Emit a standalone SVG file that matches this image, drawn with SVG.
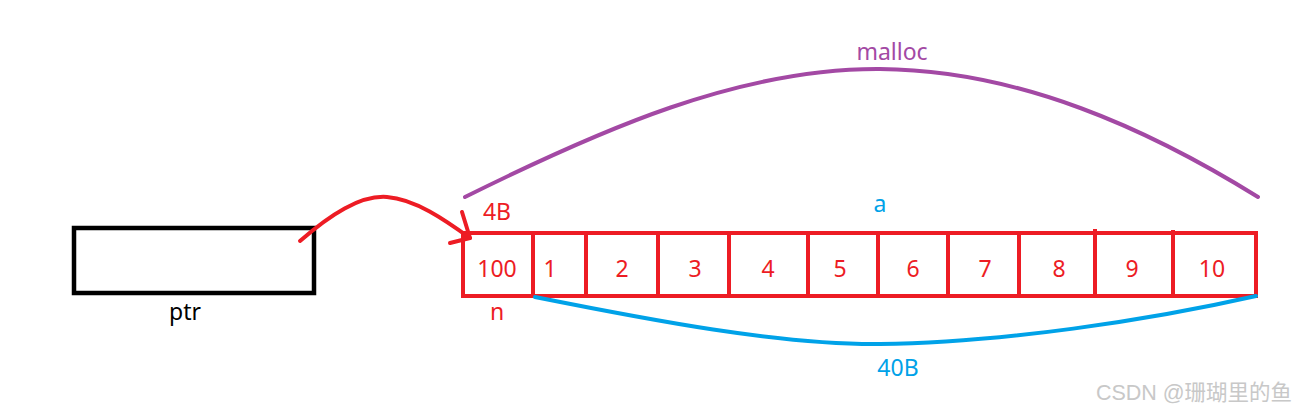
<svg xmlns="http://www.w3.org/2000/svg" width="1310" height="414" viewBox="0 0 1310 414">
<style>
text{font-family:"Microsoft YaHei","Noto Sans","Open Sans",sans-serif;font-size:23px;text-anchor:middle}
.r{fill:#ed1c24}
.b{fill:#00a2e8}
.p{fill:#a349a4}
.k{fill:#000}
.cell{fill:none;stroke:#ed1c24;stroke-width:4}
.ln{fill:none;stroke-width:4;stroke-linecap:round;stroke-linejoin:round}
</style>
<rect width="1310" height="414" fill="#fff"/>
<g id="ptr">
<rect x="74" y="228" width="240" height="65" fill="none" stroke="#000" stroke-width="4.5"/>
<text class="k" x="185" y="320">ptr</text>
</g>
<g id="array">
<rect class="cell" x="463" y="233" width="793" height="63"/>
<path class="cell" d="M533,233V296M586,233V296M658,231V296M729,233V296M808,233V297M878,231V296M948,233V296M1019,233V298M1095,229V296M1173,230V298"/>
<text class="r" x="497" y="277">100</text>
<text class="r" x="550" y="277">1</text>
<text class="r" x="622" y="277">2</text>
<text class="r" x="695" y="277">3</text>
<text class="r" x="768" y="277">4</text>
<text class="r" x="840" y="277">5</text>
<text class="r" x="913" y="277">6</text>
<text class="r" x="985" y="277">7</text>
<text class="r" x="1059" y="277">8</text>
<text class="r" x="1132" y="277">9</text>
<text class="r" x="1212" y="277">10</text>
</g>
<g id="labels">
<text class="r" x="497" y="220">4B</text>
<text class="b" x="880" y="212">a</text>
<text class="r" x="497" y="320">n</text>
<text class="p" x="892" y="60">malloc</text>
<text class="b" x="898" y="376">40B</text>
</g>
<g id="connectors">
<path class="ln" stroke="#a349a4" d="M465,197 C600,130 740,68 880,69 C1020,70 1150,130 1258,197"/>
<path class="ln" stroke="#00a2e8" d="M535,297 C650,320 780,345 880,344 C1000,343 1150,320 1256,296"/>
<path class="ln" stroke="#ed1c24" d="M300,241 C330,215 360,195 387,197 C415,199 445,220 470,238"/>
<path class="ln" stroke="#ed1c24" d="M462,212 L470,238 L450,243"/>
</g>
<text x="1194" y="400" style="font-size:21.5px;fill:#c8c8c8;font-family:'Liberation Sans','Noto Sans CJK SC',sans-serif">CSDN @珊瑚里的鱼</text>
</svg>
